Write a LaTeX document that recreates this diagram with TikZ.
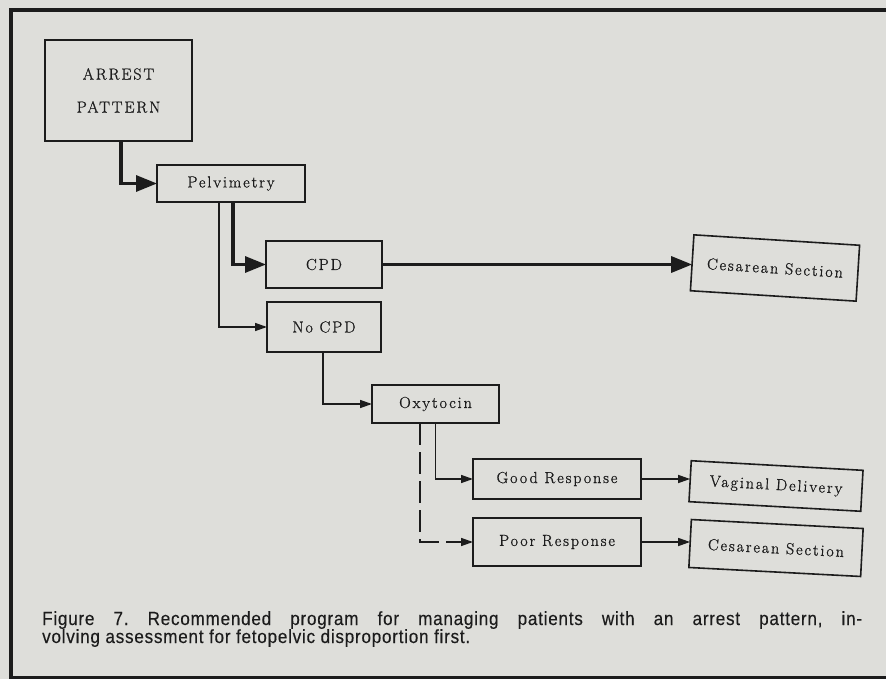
\documentclass[tikz,border=0pt]{standalone}
\usepackage{fontspec}
\usetikzlibrary{arrows.meta}
\newfontfamily\capfont[FakeStretch=0.9,LetterSpace=4,FakeBold=0.3]{Liberation Sans}
\newfontfamily\boxfont[LetterSpace=12,FakeBold=1]{Latin Modern Roman}
\definecolor{paper}{RGB}{222,222,218}
\definecolor{ink}{RGB}{28,28,28}
\begin{document}
\begin{tikzpicture}[x=1pt,y=-1pt,
  boxstyle/.style={draw=ink,line width=1.6pt,inner sep=0pt,outer sep=0pt,align=center,
    font=\boxfont\fontsize{16}{18}\selectfont,text=ink},
  heavyarrow/.style={draw=ink,line width=3.2pt,-{Triangle[length=21pt,width=16pt]}},
  lightarrow/.style={draw=ink,line width=1.5pt,-{Triangle[length=12pt,width=8pt]}},
  dasharrow/.style={lightarrow,dash pattern=on 22pt off 7pt},
  captext/.style={anchor=base west,inner sep=0pt,text=ink,font=\capfont\fontsize{19}{20}\selectfont\frenchspacing}]
\fill[paper] (0,0) rectangle (886,679);
\useasboundingbox (0,0) rectangle (886,679);
% frame
\draw[ink,line width=3.5pt] (886,10) -- (11,10) -- (11,677.5) -- (886,677.5);
% nodes
\node[boxstyle,minimum width=147pt,minimum height=101pt] (arrest) at (118.5,90.5) {ARREST\\[15pt]PATTERN};
\node[boxstyle,minimum width=148pt,minimum height=37pt] (pelv) at (231,183.5) {Pelvimetry};
\node[boxstyle,minimum width=116pt,minimum height=47pt] (cpd) at (324,264.5) {CPD};
\node[boxstyle,minimum width=114pt,minimum height=50pt] (nocpd) at (324,327) {No CPD};
\node[boxstyle,minimum width=127pt,minimum height=38pt] (oxy) at (435.5,404) {Oxytocin};
\node[boxstyle,minimum width=168pt,minimum height=40pt] (good) at (557,479) {Good Response};
\node[boxstyle,minimum width=168pt,minimum height=48pt] (poor) at (557,542) {Poor Response};
\node[boxstyle,minimum width=166pt,minimum height=56pt,rotate=-3.6] (ces1) at (775,268) {Cesarean Section};
\node[boxstyle,minimum width=172pt,minimum height=41pt,rotate=-3.2] (vag) at (776,486) {Vaginal Delivery};
\node[boxstyle,minimum width=172pt,minimum height=48pt,rotate=-3] (ces2) at (776,548) {Cesarean Section};
% connectors
\draw[heavyarrow] ([xshift=2.5pt]arrest.south) |- (pelv.west);
\draw[heavyarrow] ([xshift=2pt]pelv.south) |- (cpd.west);
\draw[lightarrow] ([xshift=-12pt]pelv.south) |- (nocpd.west);
\draw[heavyarrow] (cpd.east) -- (cpd.east -| ces1.west);
\draw[lightarrow] ([xshift=-1pt]nocpd.south) |- (oxy.west);
\draw[lightarrow] (oxy.south) |- (good.west);
\draw[dasharrow] ([xshift=-15.5pt]oxy.south) |- (poor.west);
\draw[lightarrow] (good.east) -- (good.east -| vag.west);
\draw[lightarrow] (poor.east) -- (poor.east -| ces2.west);
% caption
\node[captext] (cap1) at (42,625)
  {\makebox[820pt][s]{Figure 7. Recommended program for managing patients with an arrest pattern, in-}};
\node[captext] (cap2) at (42,643)
  {volving assessment for fetopelvic disproportion first.};
\end{tikzpicture}
\end{document}
